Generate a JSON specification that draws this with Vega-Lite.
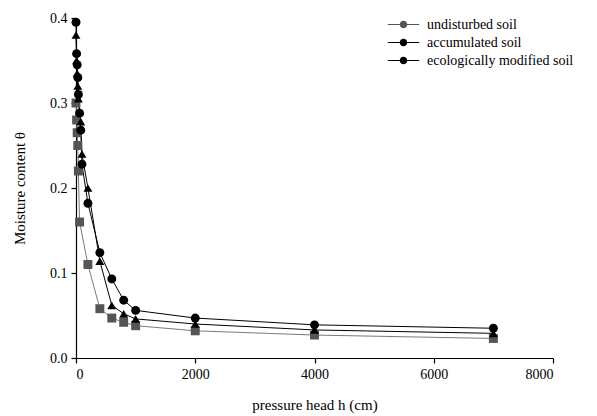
{
  "$schema": "https://vega.github.io/schema/vega-lite/v6.json",
  "width": 477,
  "height": 340,
  "autosize": "none",
  "padding": {"left": 76, "top": 18, "right": 44, "bottom": 58},
  "background": "white",
  "config": {
    "view": {"stroke": null},
    "font": "Liberation Serif",
    "axis": {
      "grid": false,
      "domainColor": "black",
      "domainWidth": 1.2,
      "tickColor": "black",
      "tickSize": 5,
      "tickWidth": 1.2,
      "labelFont": "Liberation Serif",
      "labelFontSize": 14,
      "labelColor": "black",
      "titleFont": "Liberation Serif",
      "titleFontSize": 15,
      "titleFontWeight": "normal",
      "titleColor": "black"
    },
    "legend": {
      "labelFont": "Liberation Serif",
      "labelFontSize": 14,
      "labelColor": "black"
    }
  },
  "data": {
    "values": [
      {"h": 0, "theta": 0.30, "soil": "undisturbed soil"},
      {"h": 10, "theta": 0.28, "soil": "undisturbed soil"},
      {"h": 20, "theta": 0.265, "soil": "undisturbed soil"},
      {"h": 30, "theta": 0.25, "soil": "undisturbed soil"},
      {"h": 40, "theta": 0.22, "soil": "undisturbed soil"},
      {"h": 60, "theta": 0.16, "soil": "undisturbed soil"},
      {"h": 200, "theta": 0.11, "soil": "undisturbed soil"},
      {"h": 400, "theta": 0.058, "soil": "undisturbed soil"},
      {"h": 600, "theta": 0.047, "soil": "undisturbed soil"},
      {"h": 800, "theta": 0.042, "soil": "undisturbed soil"},
      {"h": 1000, "theta": 0.038, "soil": "undisturbed soil"},
      {"h": 2000, "theta": 0.032, "soil": "undisturbed soil"},
      {"h": 4000, "theta": 0.027, "soil": "undisturbed soil"},
      {"h": 7000, "theta": 0.023, "soil": "undisturbed soil"},
      {"h": 0, "theta": 0.395, "soil": "accumulated soil"},
      {"h": 10, "theta": 0.358, "soil": "accumulated soil"},
      {"h": 20, "theta": 0.345, "soil": "accumulated soil"},
      {"h": 30, "theta": 0.33, "soil": "accumulated soil"},
      {"h": 40, "theta": 0.31, "soil": "accumulated soil"},
      {"h": 60, "theta": 0.288, "soil": "accumulated soil"},
      {"h": 80, "theta": 0.268, "soil": "accumulated soil"},
      {"h": 100, "theta": 0.228, "soil": "accumulated soil"},
      {"h": 200, "theta": 0.182, "soil": "accumulated soil"},
      {"h": 400, "theta": 0.124, "soil": "accumulated soil"},
      {"h": 600, "theta": 0.093, "soil": "accumulated soil"},
      {"h": 800, "theta": 0.068, "soil": "accumulated soil"},
      {"h": 1000, "theta": 0.056, "soil": "accumulated soil"},
      {"h": 2000, "theta": 0.047, "soil": "accumulated soil"},
      {"h": 4000, "theta": 0.039, "soil": "accumulated soil"},
      {"h": 7000, "theta": 0.035, "soil": "accumulated soil"},
      {"h": 0, "theta": 0.38, "soil": "ecologically modified soil"},
      {"h": 10, "theta": 0.35, "soil": "ecologically modified soil"},
      {"h": 20, "theta": 0.335, "soil": "ecologically modified soil"},
      {"h": 30, "theta": 0.32, "soil": "ecologically modified soil"},
      {"h": 40, "theta": 0.305, "soil": "ecologically modified soil"},
      {"h": 60, "theta": 0.29, "soil": "ecologically modified soil"},
      {"h": 80, "theta": 0.278, "soil": "ecologically modified soil"},
      {"h": 100, "theta": 0.24, "soil": "ecologically modified soil"},
      {"h": 200, "theta": 0.20, "soil": "ecologically modified soil"},
      {"h": 400, "theta": 0.114, "soil": "ecologically modified soil"},
      {"h": 600, "theta": 0.062, "soil": "ecologically modified soil"},
      {"h": 800, "theta": 0.052, "soil": "ecologically modified soil"},
      {"h": 1000, "theta": 0.046, "soil": "ecologically modified soil"},
      {"h": 2000, "theta": 0.040, "soil": "ecologically modified soil"},
      {"h": 4000, "theta": 0.033, "soil": "ecologically modified soil"},
      {"h": 7000, "theta": 0.029, "soil": "ecologically modified soil"}
    ]
  },
  "encoding": {
    "x": {
      "field": "h",
      "type": "quantitative",
      "scale": {"domain": [0, 8000], "nice": false, "zero": false},
      "axis": {
        "title": "pressure head h (cm)",
        "tickCount": 4,
        "format": "d",
        "labelPadding": 4,
        "titlePadding": 16
      }
    },
    "y": {
      "field": "theta",
      "type": "quantitative",
      "scale": {"domain": [0, 0.4], "nice": false},
      "axis": {
        "title": "Moisture content θ",
        "tickCount": 4,
        "format": ".1f",
        "labelPadding": 4,
        "titlePadding": 22
      }
    }
  },
  "layer": [
    {
      "mark": {"type": "line", "strokeWidth": 1},
      "encoding": {
        "stroke": {
          "field": "soil",
          "type": "nominal",
          "scale": {
            "domain": ["undisturbed soil", "accumulated soil", "ecologically modified soil"],
            "range": ["#7a7a7a", "#000000", "#000000"]
          },
          "legend": null
        },
        "detail": {"field": "soil", "type": "nominal"}
      }
    },
    {
      "mark": {"type": "point", "filled": true, "opacity": 1, "strokeWidth": 0},
      "encoding": {
        "color": {
          "field": "soil",
          "type": "nominal",
          "scale": {
            "domain": ["undisturbed soil", "accumulated soil", "ecologically modified soil"],
            "range": ["#555555", "#000000", "#000000"]
          },
          "legend": {
            "title": null,
            "orient": "none",
            "legendX": 320,
            "legendY": -1,
            "labelOffset": 16,
            "rowPadding": 3,
            "symbolSize": 225,
            "symbolType": "M-2.1,-0.07H2.1V0.07H-2.1Z M0.5,0A0.5,0.5 0 1,1 -0.5,0A0.5,0.5 0 1,1 0.5,0Z",
            "symbolStrokeWidth": 0
          }
        },
        "shape": {
          "field": "soil",
          "type": "nominal",
          "scale": {
            "domain": ["undisturbed soil", "accumulated soil", "ecologically modified soil"],
            "range": ["square", "circle", "triangle-up"]
          },
          "legend": null
        },
        "size": {"value": 80}
      }
    }
  ],
  "resolve": {"scale": {"color": "independent"}}
}
